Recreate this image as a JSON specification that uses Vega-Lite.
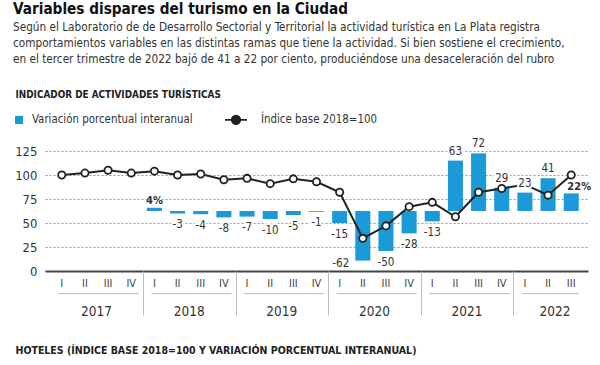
{
  "$schema": "https://vega.github.io/schema/vega-lite/v6.json",
  "width": 543,
  "height": 120,
  "autosize": {"type": "none"},
  "padding": {"left": 45, "top": 151, "right": 12, "bottom": 94},
  "background": "white",
  "title": {
    "text": "Variables dispares del turismo en la Ciudad",
    "subtitle": [
      "Según el Laboratorio de de Desarrollo Sectorial y Territorial la actividad turística en La Plata registra",
      "comportamientos variables en las distintas ramas que tiene la actividad. Si bien sostiene el crecimiento,",
      "en el tercer trimestre de 2022 bajó de 41 a 22 por ciento, produciéndose una desaceleración del rubro"
    ],
    "anchor": "start",
    "frame": "group",
    "dx": -32,
    "offset": 23,
    "fontSize": 15.2,
    "fontWeight": "bold",
    "color": "#111111",
    "subtitleFontSize": 11.7,
    "subtitleColor": "#333333",
    "subtitlePadding": 5.5,
    "subtitleLineHeight": 16
  },
  "datasets": {
    "quarters": [
      {"q": "2017-I", "idx": 100, "var": null},
      {"q": "2017-II", "idx": 102, "var": null},
      {"q": "2017-III", "idx": 105, "var": null},
      {"q": "2017-IV", "idx": 102, "var": null},
      {"q": "2018-I", "idx": 104, "var": 4},
      {"q": "2018-II", "idx": 100, "var": -3},
      {"q": "2018-III", "idx": 101, "var": -4},
      {"q": "2018-IV", "idx": 95, "var": -8},
      {"q": "2019-I", "idx": 96.5, "var": -7},
      {"q": "2019-II", "idx": 91, "var": -10},
      {"q": "2019-III", "idx": 96, "var": -5},
      {"q": "2019-IV", "idx": 93, "var": -1},
      {"q": "2020-I", "idx": 82, "var": -15},
      {"q": "2020-II", "idx": 34, "var": -62},
      {"q": "2020-III", "idx": 47, "var": -50},
      {"q": "2020-IV", "idx": 67, "var": -28},
      {"q": "2021-I", "idx": 71.5, "var": -13},
      {"q": "2021-II", "idx": 56.5, "var": 63},
      {"q": "2021-III", "idx": 82, "var": 72},
      {"q": "2021-IV", "idx": 86, "var": 29},
      {"q": "2022-I", "idx": 90, "var": 23},
      {"q": "2022-II", "idx": 79, "var": 41},
      {"q": "2022-III", "idx": 100, "var": 22}
    ],
    "years": [
      {"year": "2017", "start": "2017-I", "end": "2017-IV"},
      {"year": "2018", "start": "2018-I", "end": "2018-IV"},
      {"year": "2019", "start": "2019-I", "end": "2019-IV"},
      {"year": "2020", "start": "2020-I", "end": "2020-IV"},
      {"year": "2021", "start": "2021-I", "end": "2021-IV"},
      {"year": "2022", "start": "2022-I", "end": "2022-III"}
    ]
  },
  "data": {"name": "quarters"},
  "layer": [
    {
      "mark": {"type": "bar"},
      "encoding": {
        "x": {
          "field": "q", "type": "ordinal",
          "scale": {"type": "band", "paddingInner": 0.35, "paddingOuter": 0.4},
          "axis": {
            "orient": "bottom", "title": null, "labelAngle": 0,
            "labelExpr": "split(datum.value, '-')[1]",
            "ticks": false, "domain": true, "domainColor": "#444444", "domainWidth": 2,
            "labelPadding": 6, "labelFontSize": 11, "labelColor": "#444444", "grid": false
          }
        },
        "y": {"field": "var", "type": "quantitative", "scale": {"domain": [-75, 75]}, "axis": null},
        "color": {
          "datum": "Variación porcentual interanual",
          "scale": {"domain": ["Variación porcentual interanual", "Índice base 2018=100"], "range": ["#1a9ad6", "#222222"]},
          "legend": {
            "orient": "none", "legendX": -50, "legendY": -46, "direction": "horizontal",
            "title": null, "symbolSize": 729, "labelFontSize": 11.4, "labelColor": "#333333",
            "labelLimit": 400, "columnPadding": 28, "labelOffset": 8, "padding": 0,
            "encode": {
              "symbols": {
                "update": {
                  "shape": {"signal": "datum.value === 'Índice base 2018=100' ? 'M-1,0H-0.5M0.13,0H0.63M0.13,0A0.315,0.315 0 1,1 -0.5,0A0.315,0.315 0 1,1 0.13,0' : 'M0.41,-0.3H1V0.3H0.41Z'"},
                  "fill": {"signal": "datum.value === 'Índice base 2018=100' ? '#ffffff' : '#1a9ad6'"},
                  "stroke": {"signal": "datum.value === 'Índice base 2018=100' ? '#222222' : 'transparent'"},
                  "strokeWidth": {"value": 1.8},
                  "opacity": {"value": 1},
                  "fillOpacity": {"value": 1}
                }
              }
            }
          }
        }
      }
    },
    {
      "data": {"name": "years"},
      "mark": {"type": "rule", "color": "#bbbbbb", "strokeWidth": 1},
      "encoding": {
        "x": {"field": "start", "type": "ordinal", "bandPosition": 0.3, "axis": null},
        "x2": {"field": "end", "bandPosition": 1},
        "y": {"datum": -23.5, "type": "quantitative", "scale": {"domain": [0, 125]}, "axis": null}
      }
    },
    {
      "encoding": {
        "x": {
          "field": "q", "type": "ordinal",
          "axis": {
            "orient": "bottom", "title": null, "labels": false, "domain": false, "grid": false,
            "values": ["2018-I", "2019-I", "2020-I", "2021-I", "2022-I"],
            "bandPosition": 0, "tickOffset": -4, "ticks": true, "tickSize": 44,
            "tickColor": "#bbbbbb", "tickWidth": 1
          }
        },
        "y": {
          "field": "idx", "type": "quantitative", "scale": {"domain": [0, 125]},
          "axis": {
            "orient": "left", "values": [0, 25, 50, 75, 100, 125], "grid": true,
            "gridDash": [2, 2], "gridColor": "#999999", "gridWidth": 1,
            "domain": false, "ticks": false, "labelPadding": 8, "labelFontSize": 13,
            "labelColor": "#333333",
            "title": "INDICADOR DE ACTIVIDADES TURÍSTICAS",
            "titleAngle": 0, "titleAlign": "left", "titleBaseline": "middle",
            "titleX": -30, "titleY": -57, "titleFontSize": 9.9, "titleFontWeight": "bold",
            "titleColor": "#222222"
          }
        }
      },
      "layer": [
        {"mark": {"type": "line", "color": "#222222", "strokeWidth": 2}},
        {
          "transform": [{"filter": "datum.q != '2022-I'"}],
          "mark": {"type": "point", "filled": true, "fill": "#ffffff", "stroke": "#222222", "strokeWidth": 1.8, "size": 52, "opacity": 1}
        }
      ]
    },
    {
      "encoding": {
        "x": {
          "field": "q", "type": "ordinal",
          "axis": {
            "orient": "bottom", "ticks": false, "domain": false, "grid": false,
            "values": ["2017-II", "2018-II", "2019-II", "2020-II", "2021-II", "2022-II"],
            "labelExpr": "slice(datum.value, 0, 4)", "labelAngle": 0,
            "labelOffset": {"condition": {"test": "datum.value == '2022-II'", "value": 7}, "value": 11.6},
            "labelPadding": 33, "labelFontSize": 13.5, "labelColor": "#333333", "labelOverlap": false,
            "title": "HOTELES (ÍNDICE BASE 2018=100 Y VARIACIÓN PORCENTUAL INTERANUAL)",
            "titleX": -30, "titleY": 79, "titleAlign": "left", "titleBaseline": "middle",
            "titleFontSize": 10.5, "titleFontWeight": "bold", "titleColor": "#222222"
          }
        },
        "y": {"field": "var", "type": "quantitative", "scale": {"domain": [-75, 75]}, "axis": null}
      },
      "layer": [
        {
          "transform": [{"filter": "datum.var > 0 && datum.q != '2018-I' && datum.q != '2022-III'"}],
          "encoding": {"text": {"field": "var", "type": "nominal"}},
          "layer": [
            {"mark": {"type": "text", "baseline": "middle", "dy": -9, "fontSize": 11.5, "fill": "#ffffff", "stroke": "#ffffff", "strokeWidth": 4, "strokeJoin": "round"}},
            {"mark": {"type": "text", "baseline": "middle", "dy": -9, "fontSize": 11.5, "fill": "#333333"}}
          ]
        },
        {
          "transform": [{"filter": "datum.var < 0 && datum.q != '2020-II'"}],
          "encoding": {"text": {"field": "var", "type": "nominal"}},
          "layer": [
            {"mark": {"type": "text", "baseline": "middle", "dy": 11.5, "fontSize": 11.5, "fill": "#ffffff", "stroke": "#ffffff", "strokeWidth": 4, "strokeJoin": "round"}},
            {"mark": {"type": "text", "baseline": "middle", "dy": 11.5, "fontSize": 11.5, "fill": "#333333"}}
          ]
        },
        {
          "transform": [{"filter": "datum.q == '2020-II'"}],
          "encoding": {"text": {"field": "var", "type": "nominal"}},
          "mark": {"type": "text", "baseline": "middle", "dx": -22, "dy": 3.5, "fontSize": 11.5, "fill": "#333333"}
        },
        {
          "transform": [{"filter": "datum.q == '2018-I'"}, {"calculate": "datum.var + '%'", "as": "label"}],
          "encoding": {"text": {"field": "label", "type": "nominal"}},
          "mark": {"type": "text", "baseline": "middle", "dy": -7, "fontSize": 11, "fontWeight": "bold", "fill": "#333333"}
        },
        {
          "transform": [{"filter": "datum.q == '2022-III'"}, {"calculate": "datum.var + '%'", "as": "label"}],
          "encoding": {"text": {"field": "label", "type": "nominal"}},
          "mark": {"type": "text", "baseline": "middle", "dx": 8, "dy": -6, "fontSize": 11, "fontWeight": "bold", "fill": "#333333"}
        }
      ]
    }
  ],
  "resolve": {
    "scale": {"x": "shared", "y": "independent"},
    "axis": {"x": "independent", "y": "independent"}
  },
  "config": {
    "view": {"stroke": null},
    "font": "Liberation Sans Narrow, DejaVu Sans Condensed, sans-serif"
  }
}
